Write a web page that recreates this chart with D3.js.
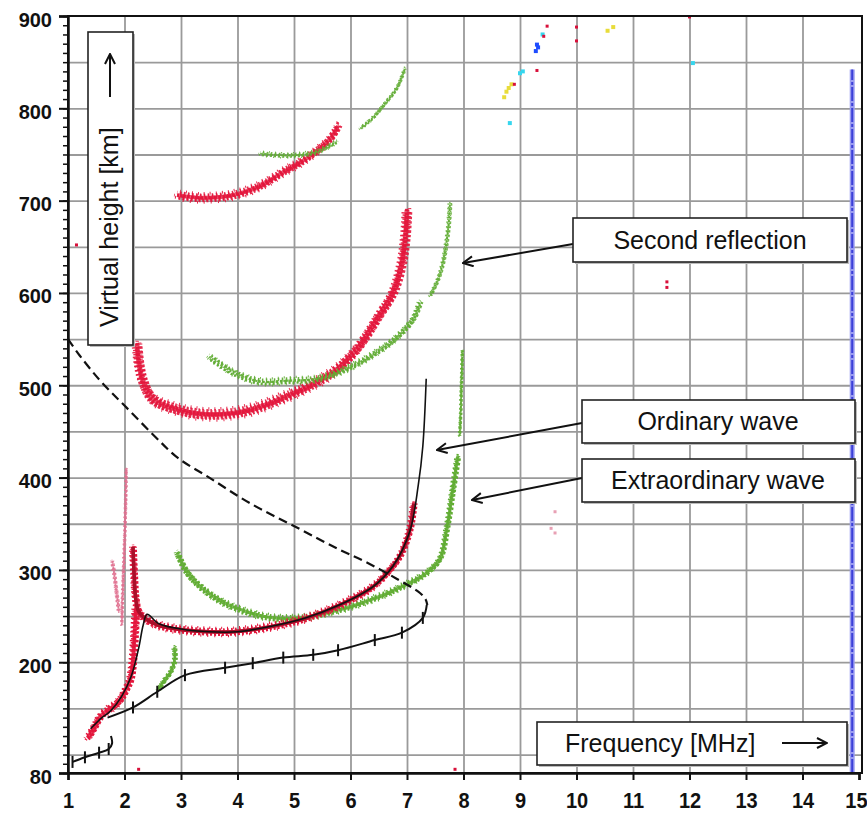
<!DOCTYPE html>
<html><head><meta charset="utf-8">
<script src="https://cdn.jsdelivr.net/npm/d3@7"></script>
<style>body{margin:0;background:#fff} svg{display:block}</style>
</head><body>
<script>
// ---------- DATA (frequency MHz, virtual height km) ----------
const freqTicks = [1,2,3,4,5,6,7,8,9,10,11,12,13,14,15];
const heightLabels = [80,200,300,400,500,600,700,800,900];
const heightGrid = [100,150,200,250,300,350,400,450,500,550,600,650,700,750,800,850];
const heightMinor = [80,90,100,110,120,130,140,150,160,170,180,190,200,210,220,230,240,250,260,270,280,290,300,310,320,330,340,350,360,370,380,390,400,410,420,430,440,450,460,470,480,490,500,510,520,530,540,550,560,570,580,590,600,610,620,630,640,650,660,670,680,690,700,710,720,730,740,750,760,770,780,790,800,810,820,830,840,850,860,870,880,890,900];

// first hop, ordinary (red) and extraordinary (green)
const redE  = [[1.35,118],[1.45,128],[1.57,141],[1.7,148],[1.8,152],[1.92,159],[2.02,170],[2.1,181],[2.15,203],[2.18,232],[2.2,258]];
const redF  = [[2.15,325],[2.17,295],[2.2,268],[2.25,255],[2.4,246],[2.6,240],[3.04,235],[3.5,233],[3.92,233],[4.63,239],[5.23,248],[5.81,262],[6.4,282],[6.75,304],[6.9,318],[7.05,344],[7.12,372]];
const oFit  = [[1.4,128],[1.6,140],[1.75,147],[1.95,163],[2.12,185],[2.25,215],[2.33,240],[2.4,252],[2.6,242],[3.0,236],[3.5,233],[4.0,233],[4.6,239],[5.2,248],[5.8,262],[6.4,282],[6.75,304],[7.05,342],[7.2,392],[7.28,434],[7.34,507]];
const greenF = [[2.93,319],[3.1,298],[3.34,282],[3.6,270],[3.92,260],[4.52,249],[5.11,248],[5.69,255],[6.29,266],[6.88,281],[7.35,297],[7.58,312],[7.71,347],[7.81,387],[7.9,423]];
const greenTail = [[7.93,445],[7.95,470],[7.96,495],[7.97,515],[7.98,538]];
const greenE = [[2.6,170],[2.7,180],[2.81,189],[2.89,203],[2.88,216]];
const faintRedA = [[1.95,240],[1.97,280],[2.0,330],[2.02,375],[2.03,410]];
const faintRedB = [[1.78,310],[1.82,295],[1.86,275],[1.9,255]];

// second hop
const red2F = [[2.22,545],[2.26,522],[2.33,504],[2.5,485],[2.93,474],[3.34,469],[3.81,469],[4.27,474],[4.75,485],[5.23,498],[5.69,514],[6.11,539],[6.5,575],[6.75,600],[6.9,630],[6.97,660],[7.0,690]];
const green2F = [[3.5,531],[3.92,514],[4.4,504],[4.88,505],[5.41,507],[5.94,518],[6.47,536],[6.82,552],[7.11,572],[7.23,590]];
const green2Fup = [[7.41,597],[7.55,615],[7.64,634],[7.73,670],[7.76,697]];
// third hop
const red3F = [[2.93,706],[3.34,703],[3.92,706],[4.4,716],[4.81,731],[5.23,746],[5.64,767],[5.78,781]];
const green3F = [[4.4,751],[4.93,749],[5.41,753],[5.76,764]];
const green3Fup = [[6.17,778],[6.4,790],[6.58,803],[6.82,822],[6.96,843]];

// derived profiles
const trueProfile = [[1.7,140],[2.15,151],[2.58,168],[3.07,186],[3.78,194],[4.27,199],[4.81,205],[5.34,208],[5.78,213],[6.43,224],[6.91,232],[7.28,248],[7.35,262]];
const eProfile = [[1.08,92],[1.3,97],[1.55,102],[1.72,106],[1.78,112],[1.76,120]];
const dashedCurve = [[1.0,550],[1.21,532],[1.57,505],[2.0,478],[2.68,436],[2.95,421],[3.5,400],[4.2,373],[5.11,344],[5.8,322],[6.29,308],[6.8,291],[7.23,275],[7.33,268],[7.36,262]];

// stray echoes
const dotsYellow = [[8.72,812],[8.76,818],[8.8,822],[8.85,826],[10.55,884],[10.65,888]];
const dotsCyan = [[8.82,784],[9.0,838],[9.05,840],[9.4,880],[12.06,849]];
const dotsBlue = [[9.28,862],[9.3,869],[9.32,866]];
const dotsRed = [[8.9,826],[9.3,841],[9.42,878],[9.48,889],[10.0,873],[10.0,888],[11.6,612],[11.6,606],[7.85,84],[1.15,652],[2.25,84],[12.0,899]];
const dotsPink = [[9.62,363],[9.62,340],[9.55,345]];
const blueBand = [[14.88,80],[14.88,842]];

// ---------- CHART ----------
const W = 867, H = 814;
const x = d3.scaleLinear().domain([1,15]).range([68,859]);
const y = d3.scaleLinear().domain([80,900]).range([773,16]);
const svg = d3.select("body").append("svg").attr("width",W).attr("height",H)
  .style("font-family","'Liberation Sans', Arial, sans-serif");

const plotR = 862, plotT = 16, plotB = 773, plotL = 68;

// grid
svg.append("g").attr("transform",`translate(${plotL},0)`)
  .call(d3.axisLeft(y).tickValues(heightGrid).tickSize(-(plotR-plotL)).tickFormat(""))
  .call(g=>g.select(".domain").remove())
  .call(g=>g.selectAll("line").attr("stroke","#9a9a9a").attr("stroke-width",1.8));
svg.append("g").attr("transform",`translate(0,${plotB})`)
  .call(d3.axisBottom(x).tickValues(freqTicks.slice(1,-1)).tickSize(-(plotB-plotT)).tickFormat(""))
  .call(g=>g.select(".domain").remove())
  .call(g=>g.selectAll("line").attr("stroke","#9a9a9a").attr("stroke-width",1.8));

const line = d3.line().x(d=>x(d[0])).y(d=>y(d[1])).curve(d3.curveCatmullRom.alpha(0.5));
const lineLin = d3.line().x(d=>x(d[0])).y(d=>y(d[1]));

// blue band at right edge
svg.append("path").attr("d",lineLin(blueBand)).attr("stroke","#9a9cf0").attr("stroke-width",5).attr("fill","none");
svg.append("path").attr("d",lineLin(blueBand)).attr("stroke","#3b3fd8").attr("stroke-width",2).attr("stroke-dasharray","14 2 3 2").attr("fill","none");

// speckled trace: several thin dashed copies offset around the path
function scatter(data, color, w, op, core){
  const d = line(data), s = w/3;
  if (core) svg.append("path").attr("d",d).attr("fill","none").attr("stroke",color)
      .attr("stroke-width",w*0.45).attr("opacity",op*0.8);
  const offs = [[0,0,"2 1.5",0],[0,-s,"1.5 2.5",1],[0,s,"2 2",2.2],[-s,0,"1.5 3",0.7],[s,0,"2.5 2",1.6],[s*0.7,-s*0.7,"1 3",2.5],[-s*0.7,s*0.7,"1.5 2.5",0.3],[0,-1.5*s,"1 5",3],[0,1.5*s,"1 6",1]];
  offs.forEach(o=>{
    svg.append("path").attr("d",d).attr("fill","none").attr("stroke",color)
      .attr("transform",`translate(${o[0]},${o[1]})`)
      .attr("stroke-width",Math.max(1.6,w/3.2)).attr("stroke-dasharray",o[2]).attr("stroke-dashoffset",o[3])
      .attr("opacity",op);
  });
}
const RED = "#e3163c", GREEN = "#62ad35", DRED = "#a8102a";

// faint scatter
scatter(faintRedA, "#e07090", 3, 0.8, false);
scatter(faintRedB, "#e07090", 4, 0.8, false);

// third hop
scatter(red3F, RED, 9, 0.9, true);
scatter(green3F, GREEN, 5, 0.85, false);
scatter(green3Fup, GREEN, 4, 0.8, false);

// second hop
scatter(red2F, RED, 11, 0.9, true);
scatter(green2F, GREEN, 7, 0.9, false);
scatter(green2Fup, GREEN, 5, 0.85, false);

// first hop
scatter(greenE, GREEN, 6, 1, true);
scatter(greenF, GREEN, 7, 1, true);
scatter(greenTail, GREEN, 3, 0.9, false);
scatter(redE, RED, 9, 1, true);
scatter(redF, RED, 8, 1, true);
svg.append("path").attr("d",line(redF)).attr("fill","none").attr("stroke",DRED).attr("stroke-width",3.5);

// black lines
svg.append("path").attr("d",line(oFit)).attr("fill","none").attr("stroke","#111").attr("stroke-width",1.6);
svg.append("path").attr("d",line(trueProfile)).attr("fill","none").attr("stroke","#111").attr("stroke-width",2);
svg.append("path").attr("d",line(eProfile)).attr("fill","none").attr("stroke","#111").attr("stroke-width",2);
svg.append("path").attr("d",line(dashedCurve)).attr("fill","none").attr("stroke","#111").attr("stroke-width",2.2).attr("stroke-dasharray","9 5");
// profile tick marks
svg.append("g").selectAll("line").data(trueProfile.slice(1,-1).concat(eProfile.slice(0,4)))
  .join("line").attr("x1",d=>x(d[0])).attr("x2",d=>x(d[0]))
  .attr("y1",d=>y(d[1])-6).attr("y2",d=>y(d[1])+6).attr("stroke","#111").attr("stroke-width",2);

// stray dots
function dots(data,color,s){
  svg.append("g").selectAll("rect").data(data).join("rect")
    .attr("x",d=>x(d[0])-s/2).attr("y",d=>y(d[1])-s/2).attr("width",s).attr("height",s).attr("fill",color);
}
dots(dotsYellow,"#e8dc3a",4);
dots(dotsCyan,"#36d6ee",4);
dots(dotsBlue,"#1e4cff",4);
dots(dotsRed,"#d8103a",3);
dots(dotsPink,"#e8a0b4",3);

// frame
svg.append("rect").attr("x",plotL).attr("y",plotT).attr("width",plotR-plotL).attr("height",plotB-plotT)
  .attr("fill","none").attr("stroke","#111").attr("stroke-width",2);

// y axis ticks
svg.append("g").attr("transform",`translate(${plotL},0)`)
  .call(d3.axisLeft(y).tickValues(heightMinor).tickSize(5).tickFormat(""))
  .call(g=>g.select(".domain").remove())
  .call(g=>g.selectAll("line").attr("stroke","#111").attr("stroke-width",1.5));
const yAx = svg.append("g").attr("transform",`translate(${plotL},0)`)
  .call(d3.axisLeft(y).tickValues(heightLabels).tickSize(9).tickPadding(7))
  .call(g=>g.select(".domain").attr("stroke","#111").attr("stroke-width",2.5));
yAx.selectAll("line").attr("stroke","#111").attr("stroke-width",2);
yAx.selectAll("text").attr("font-size",20).attr("font-weight","bold").attr("fill","#111")
  .attr("font-family","'Liberation Sans', Arial, sans-serif").attr("dy","0.5em");

// x axis
const xAx = svg.append("g").attr("transform",`translate(0,${plotB})`)
  .call(d3.axisBottom(x).tickValues(freqTicks).tickSize(7).tickFormat(d3.format("d")))
  .call(g=>g.select(".domain").attr("stroke","#111").attr("stroke-width",2.5));
xAx.selectAll("line").attr("stroke","#111").attr("stroke-width",2);
xAx.selectAll("text").attr("font-size",20).attr("font-weight","bold").attr("fill","#111")
  .attr("font-family","'Liberation Sans', Arial, sans-serif")
  .attr("y",0).attr("dy",0)
  .attr("transform","translate(0,35) scale(1,1.12)");
// keep the last label inside the picture
xAx.selectAll("text").filter(d=>d===15).attr("text-anchor","end").attr("x",8);

// ---------- annotations ----------
const defs = svg.append("defs");
defs.append("marker").attr("id","arr").attr("viewBox","0 0 12 12").attr("refX",11).attr("refY",6)
  .attr("markerWidth",12).attr("markerHeight",12).attr("markerUnits","userSpaceOnUse").attr("orient","auto")
  .append("path").attr("d","M1,1 L11,6 L1,11").attr("fill","none").attr("stroke","#111").attr("stroke-width",2);

function box(x0,y0,x1,y1){
  svg.append("rect").attr("x",x0+2).attr("y",y0+2).attr("width",x1-x0).attr("height",y1-y0).attr("fill","#bbb");
  svg.append("rect").attr("x",x0).attr("y",y0).attr("width",x1-x0).attr("height",y1-y0)
    .attr("fill","#fff").attr("stroke","#222").attr("stroke-width",1.6);
}
function arrow(x0,y0,x1,y1){
  svg.append("line").attr("x1",x0).attr("y1",y0).attr("x2",x1).attr("y2",y1)
    .attr("stroke","#111").attr("stroke-width",2).attr("marker-end","url(#arr)");
}
function label(tx,ty,t,anchor){
  svg.append("text").attr("x",tx).attr("y",ty).attr("font-size",25).attr("fill","#111")
    .attr("text-anchor",anchor||"middle").text(t);
}

// Second reflection
arrow(573,244,463,263);
box(573,218,847,262);
label(710,249,"Second reflection");
// Ordinary wave
arrow(582,423,437,450);
box(582,400,855,443);
label(718,430,"Ordinary wave");
// Extraordinary wave
arrow(582,478,472,500);
box(582,459,855,502);
label(718,489,"Extraordinary wave");
// Frequency
box(537,722,847,765);
label(565,752,"Frequency [MHz]","start");
arrow(782,743,827,743);
// Virtual height
box(88,32,133,345);
svg.append("text").attr("transform","translate(118,327) rotate(-90)").attr("font-size",25)
  .attr("fill","#111").text("Virtual height [km]");
arrow(110,97,110,54);
</script>
</body></html>
